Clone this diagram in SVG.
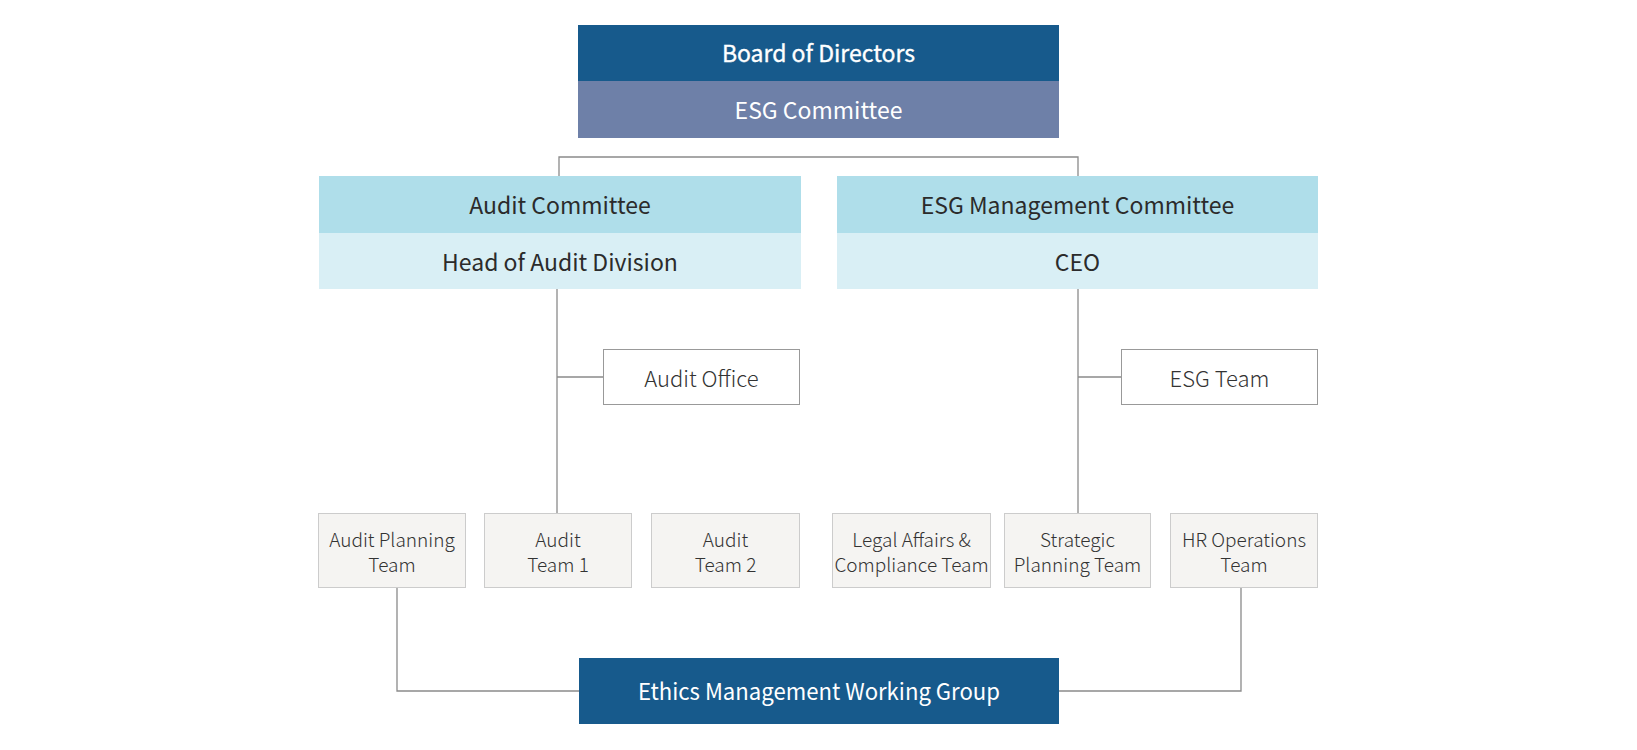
<svg xmlns="http://www.w3.org/2000/svg" width="1637" height="750" viewBox="0 0 1637 750">
<style>
text{font-family:"Noto Sans CJK KR","Noto Sans",sans-serif;text-anchor:middle;dominant-baseline:central}
.w{fill:#ffffff;font-size:23px;font-weight:400}
.b{stroke:#ffffff;stroke-width:0.35px}
.d{fill:#2b2b2b;font-size:23px;font-weight:400}
.l{fill:#333333;font-size:22px;font-weight:300}
.s{fill:#333333;font-size:19px;font-weight:300}
.team{fill:#f5f4f2;stroke:#cccccc;stroke-width:1}
.off{fill:#ffffff;stroke:#999999;stroke-width:1}
.c{fill:none;stroke:#8a8a8a;stroke-width:1.3}
</style>
<rect width="1637" height="750" fill="#ffffff"/>
<g id="connectors">
<polyline class="c" points="559,176 559,157 1078,157 1078,176"/>
<line class="c" x1="557" y1="289" x2="557" y2="513"/>
<line class="c" x1="557" y1="377" x2="603" y2="377"/>
<line class="c" x1="1078" y1="289" x2="1078" y2="513"/>
<line class="c" x1="1078" y1="377" x2="1121" y2="377"/>
<polyline class="c" points="397,588 397,691 579,691"/>
<polyline class="c" points="1241,588 1241,691 1059,691"/>
</g>
<g id="board">
<rect x="578" y="25" width="481" height="56" fill="#175a8c"/>
<text class="w b" x="818.5" y="52">Board of Directors</text>
</g>
<g id="esg-committee">
<rect x="578" y="81" width="481" height="57" fill="#6e80a8"/>
<text class="w" x="818.5" y="109">ESG Committee</text>
</g>
<g id="audit-committee">
<rect x="319" y="176" width="482" height="57" fill="#afdeea"/>
<text class="d" x="560" y="204">Audit Committee</text>
</g>
<g id="head-audit">
<rect x="319" y="233" width="482" height="56" fill="#d9eff5"/>
<text class="d" x="560" y="260.5">Head of Audit Division</text>
</g>
<g id="esg-mgmt-committee">
<rect x="837" y="176" width="481" height="57" fill="#afdeea"/>
<text class="d" x="1077.5" y="204">ESG Management Committee</text>
</g>
<g id="ceo">
<rect x="837" y="233" width="481" height="56" fill="#d9eff5"/>
<text class="d" x="1077.5" y="260.5">CEO</text>
</g>
<g id="audit-office">
<rect class="off" x="603.5" y="349.5" width="196" height="55"/>
<text class="l" x="701.5" y="377">Audit Office</text>
</g>
<g id="esg-team">
<rect class="off" x="1121.5" y="349.5" width="196" height="55"/>
<text class="l" x="1219.5" y="377">ESG Team</text>
</g>
<g id="audit-planning">
<rect class="team" x="318.5" y="513.5" width="147" height="74"/>
<text class="s" x="392" y="538.5">Audit Planning</text>
<text class="s" x="392" y="563">Team</text>
</g>
<g id="audit-team-1">
<rect class="team" x="484.5" y="513.5" width="147" height="74"/>
<text class="s" x="558" y="538.5">Audit</text>
<text class="s" x="558" y="563">Team 1</text>
</g>
<g id="audit-team-2">
<rect class="team" x="651.5" y="513.5" width="148" height="74"/>
<text class="s" x="725.5" y="538.5">Audit</text>
<text class="s" x="725.5" y="563">Team 2</text>
</g>
<g id="legal">
<rect class="team" x="832.5" y="513.5" width="158" height="74"/>
<text class="s" x="911.5" y="538.5">Legal Affairs &amp;</text>
<text class="s" x="911.5" y="563">Compliance Team</text>
</g>
<g id="strategic">
<rect class="team" x="1004.5" y="513.5" width="146" height="74"/>
<text class="s" x="1077.5" y="538.5">Strategic</text>
<text class="s" x="1077.5" y="563">Planning Team</text>
</g>
<g id="hr">
<rect class="team" x="1170.5" y="513.5" width="147" height="74"/>
<text class="s" x="1244" y="538.5">HR Operations</text>
<text class="s" x="1244" y="563">Team</text>
</g>
<g id="ethics">
<rect x="579" y="658" width="480" height="66" fill="#175a8c"/>
<text class="w" x="819" y="690" textLength="362" lengthAdjust="spacingAndGlyphs">Ethics Management Working Group</text>
</g>
</svg>
